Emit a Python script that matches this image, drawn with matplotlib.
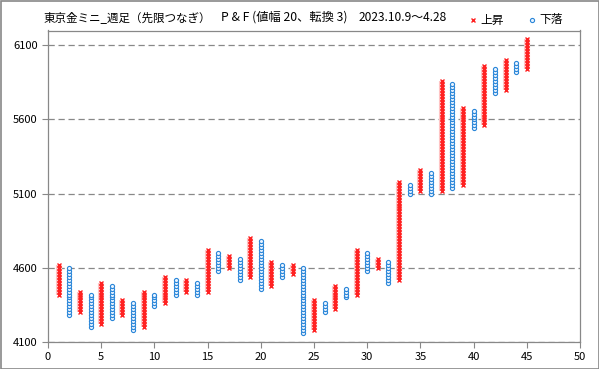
import numpy as np
import matplotlib
matplotlib.use('Agg')
from matplotlib import pyplot as plt
from matplotlib.lines import Line2D
from matplotlib.patches import Rectangle

plt.rcParams['font.family'] = ['Noto Sans CJK JP', 'DejaVu Sans']

#--------------
# P&F columns (box 20, 3-box reversal): column number, low, high, type
col_no = list(range(1, 46))
col_type = ['X', 'O'] * 22 + ['X']
col_low = [4420, 4280, 4300, 4200, 4220, 4260, 4280, 4180, 4200, 4340,
           4360, 4420, 4440, 4420, 4440, 4580, 4600, 4520, 4540, 4460,
           4480, 4540, 4560, 4160, 4180, 4300, 4320, 4400, 4420, 4580,
           4600, 4500, 4520, 5100, 5120, 5100, 5120, 5140, 5160, 5540,
           5560, 5780, 5800, 5920, 5940]
col_high = [4620, 4600, 4440, 4420, 4500, 4480, 4380, 4360, 4440, 4420,
            4540, 4520, 4520, 4500, 4720, 4700, 4680, 4660, 4800, 4780,
            4640, 4620, 4620, 4600, 4380, 4360, 4480, 4460, 4720, 4700,
            4660, 4640, 5180, 5160, 5260, 5240, 5860, 5840, 5680, 5660,
            5960, 5940, 6000, 5980, 6140]
box = 20

title_parts = ['東京金ミニ_週足（先限つなぎ）', 'P & F (値幅 20、転換 3)', '2023.10.9～4.28']
title_x = [44, 221, 359] #pixel x of each piece
title_fs = [8.3, 8.8, 8.6]
yticks = [4100, 4600, 5100, 5600, 6100]
xticks = list(range(0, 51, 5))

red = '#ff2020'
blue = '#2a86d8'

fig = plt.figure(figsize=(5.99, 3.69), dpi=100)
ax = fig.add_axes([48/599, 1-342/369, (580-48)/599, (342-30.5)/369])

for c, t, lo, hi in zip(col_no, col_type, col_low, col_high):
    ys = np.arange(lo, hi + 1, box)
    xs = np.full(len(ys), c)
    if t == 'X':
        ax.plot([c, c], [lo, hi], color='#ffc4c4', lw=4.4, solid_capstyle='butt', zorder=2) #pink glow
        ax.plot(xs, ys, ls='none', marker='x', ms=3.2, mew=1.0, color=red, zorder=3)
    else:
        ax.plot(xs, ys, ls='none', marker='o', ms=3.0, mew=0.8, mec=blue, mfc='#e8f3ff', zorder=3)

ax.set_xlim(0, 50)
ax.set_ylim(4100, 6200)
ax.set_xticks(xticks)
ax.set_yticks(yticks)
ax.tick_params(labelsize=8, color='#888888', length=4, width=0.8, direction='out')
ax.yaxis.grid(True, color='#888888', linestyle=(0, (5, 3)), lw=0.9)
ax.set_axisbelow(True)
for s in ax.spines.values():
    s.set_color('#888888')
    s.set_linewidth(0.9)

for txt, px, fs in zip(title_parts, title_x, title_fs):
    fig.text(px/599, 1-17.5/369, txt, fontsize=fs, va='center', ha='left')

# legend
ly = 1-20/369
fig.add_artist(Line2D([473/599], [ly], transform=fig.transFigure, marker='x', ms=3.5, mew=1.0, color=red, ls='none'))
fig.text(480/599, ly, '上昇', fontsize=8.5, va='center', ha='left')
fig.add_artist(Line2D([532/599], [ly], transform=fig.transFigure, marker='o', ms=3.0, mew=0.8, mec=blue, mfc='#e8f3ff', ls='none'))
fig.text(539/599, ly, '下落', fontsize=8.5, va='center', ha='left')

fig.add_artist(Rectangle((0.5/599, 0.5/369), 598/599, 368/369, transform=fig.transFigure,
                         fill=False, edgecolor='#888888', lw=1.2))

fig.savefig('out.png', dpi=100)
